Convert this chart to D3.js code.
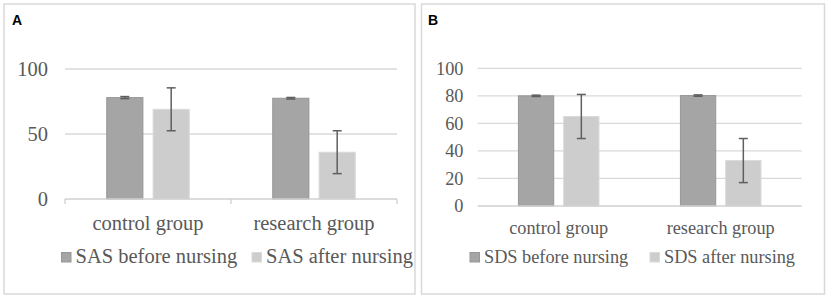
<!DOCTYPE html>
<html>
<head>
<meta charset="utf-8">
<script src="https://cdn.jsdelivr.net/npm/d3@7"></script>
<style>
  body { margin: 0; background: #fff; }
  svg { display: block; }
  text { fill: #595959; font-family: "Liberation Serif", "Times New Roman", serif; }
</style>
</head>
<body>
<div id="chart"></div>
<script>
// data
var categories = ["control group", "research group"];
var yTicks = { A: [0, 50, 100], B: [0, 20, 40, 60, 80, 100] };

var sasSeries = ["SAS before nursing", "SAS after nursing"];
var sasBefore = [78, 77.5];
var sasBeforeErr = [0.8, 0.6];
var sasAfter = [69, 36];
var sasAfterErr = [16.5, 16.5];

var sdsSeries = ["SDS before nursing", "SDS after nursing"];
var sdsBefore = [80, 80.2];
var sdsBeforeErr = [0.5, 0.5];
var sdsAfter = [65, 33];
var sdsAfterErr = [16, 16];

var colors = ["#a5a5a5", "#cdcdcd"];
var strokes = ["#979797", "#dadada"];

var svg = d3.select("#chart")
    .append("svg")
    .attr("width", 829)
    .attr("height", 300);

function drawPanel(p) {
    // panel frame
    svg.append("rect")
        .attr("x", p.box[0]).attr("y", p.box[1])
        .attr("width", p.box[2]).attr("height", p.box[3])
        .attr("fill", "#fff")
        .attr("stroke", "#d9d9d9")
        .attr("stroke-width", 1.5);

    svg.append("text")
        .attr("x", p.letterX).attr("y", 25)
        .style("font-family", "'Liberation Sans', Arial, sans-serif")
        .style("font-weight", "bold")
        .style("font-size", "14px")
        .style("fill", "#000")
        .text(p.letter);

    var x0 = d3.scaleBand().domain(categories).range([p.left, p.right]);
    var x1 = d3.scaleBand().domain(p.series).range([0, x0.bandwidth()])
        .paddingInner(0.22).paddingOuter(0.9);
    var y = d3.scaleLinear().domain([0, 100]).range([p.bottom, p.top]);

    // gridlines
    svg.append("g").selectAll("line")
        .data(p.ticks.filter(function (d) { return d > 0; }))
        .enter().append("line")
        .attr("x1", p.left).attr("x2", p.right)
        .attr("y1", function (d) { return y(d); })
        .attr("y2", function (d) { return y(d); })
        .attr("stroke", "#d9d9d9").attr("stroke-width", 1.3);

    // y tick labels
    svg.append("g").selectAll("text")
        .data(p.ticks)
        .enter().append("text")
        .attr("x", p.labelX)
        .attr("y", function (d) { return y(d); })
        .attr("dy", "0.34em")
        .attr("text-anchor", "end")
        .style("font-size", p.fontSize + "px")
        .text(function (d) { return d; });

    var rows = [];
    categories.forEach(function (c, i) {
        rows.push({ cat: c, s: 0, v: p.before[i], e: p.beforeErr[i] });
        rows.push({ cat: c, s: 1, v: p.after[i], e: p.afterErr[i] });
    });

    // bars
    svg.append("g").selectAll("rect")
        .data(rows)
        .enter().append("rect")
        .attr("x", function (d) { return x0(d.cat) + x1(p.series[d.s]); })
        .attr("y", function (d) { return y(d.v); })
        .attr("width", x1.bandwidth())
        .attr("height", function (d) { return y(0) - y(d.v); })
        .attr("fill", function (d) { return colors[d.s]; })
        .attr("stroke", function (d) { return strokes[d.s]; })
        .attr("stroke-width", 1);

    // axis line
    svg.append("line")
        .attr("x1", p.left).attr("x2", p.right)
        .attr("y1", y(0)).attr("y2", y(0))
        .attr("stroke", "#d0d0d0").attr("stroke-width", 1.3);

    if (p.catTicks) {
        svg.append("g").selectAll("line")
            .data([p.left, x0(categories[1]), p.right])
            .enter().append("line")
            .attr("x1", function (d) { return d; })
            .attr("x2", function (d) { return d; })
            .attr("y1", y(0)).attr("y2", y(0) + 5)
            .attr("stroke", "#d0d0d0").attr("stroke-width", 1.3);
    }

    // error bars
    var eb = svg.append("g").attr("stroke", "#5f5f5f").attr("stroke-width", 1.5);
    rows.forEach(function (d) {
        var cx = x0(d.cat) + x1(p.series[d.s]) + x1.bandwidth() / 2;
        var y1 = y(d.v + d.e), y2 = y(d.v - d.e);
        eb.append("line").attr("x1", cx).attr("x2", cx).attr("y1", y1).attr("y2", y2);
        eb.append("line").attr("x1", cx - 4.5).attr("x2", cx + 4.5).attr("y1", y1).attr("y2", y1);
        eb.append("line").attr("x1", cx - 4.5).attr("x2", cx + 4.5).attr("y1", y2).attr("y2", y2);
    });

    // category labels
    svg.append("g").selectAll("text")
        .data(categories)
        .enter().append("text")
        .attr("x", function (d) { return x0(d) + x0.bandwidth() / 2; })
        .attr("y", p.catY)
        .attr("text-anchor", "middle")
        .style("font-size", p.fontSize + "px")
        .text(function (d) { return d; });

    // legend
    p.series.forEach(function (s, i) {
        svg.append("rect")
            .attr("x", p.legendX[i]).attr("y", p.legendY - 10.5)
            .attr("width", 9.5).attr("height", 9.5)
            .attr("fill", colors[i]).attr("stroke", strokes[i]);
        svg.append("text")
            .attr("x", p.legendX[i] + 14).attr("y", p.legendY)
            .style("font-size", p.fontSize + "px")
            .text(s);
    });
}

drawPanel({
    letter: "A", letterX: 12, box: [4, 4, 411, 290],
    series: sasSeries, before: sasBefore, beforeErr: sasBeforeErr,
    after: sasAfter, afterErr: sasAfterErr, ticks: yTicks.A,
    left: 65, right: 397, top: 69, bottom: 199,
    labelX: 48, fontSize: 20.5, catY: 230, catTicks: true,
    legendX: [61.5, 252], legendY: 263
});

drawPanel({
    letter: "B", letterX: 428, box: [421.5, 4, 403, 290],
    series: sdsSeries, before: sdsBefore, beforeErr: sdsBeforeErr,
    after: sdsAfter, afterErr: sdsAfterErr, ticks: yTicks.B,
    left: 477.7, right: 801.7, top: 68.3, bottom: 206,
    labelX: 463.5, fontSize: 18.3, catY: 233.5, catTicks: false,
    legendX: [470, 650], legendY: 263
});
</script>
</body>
</html>
